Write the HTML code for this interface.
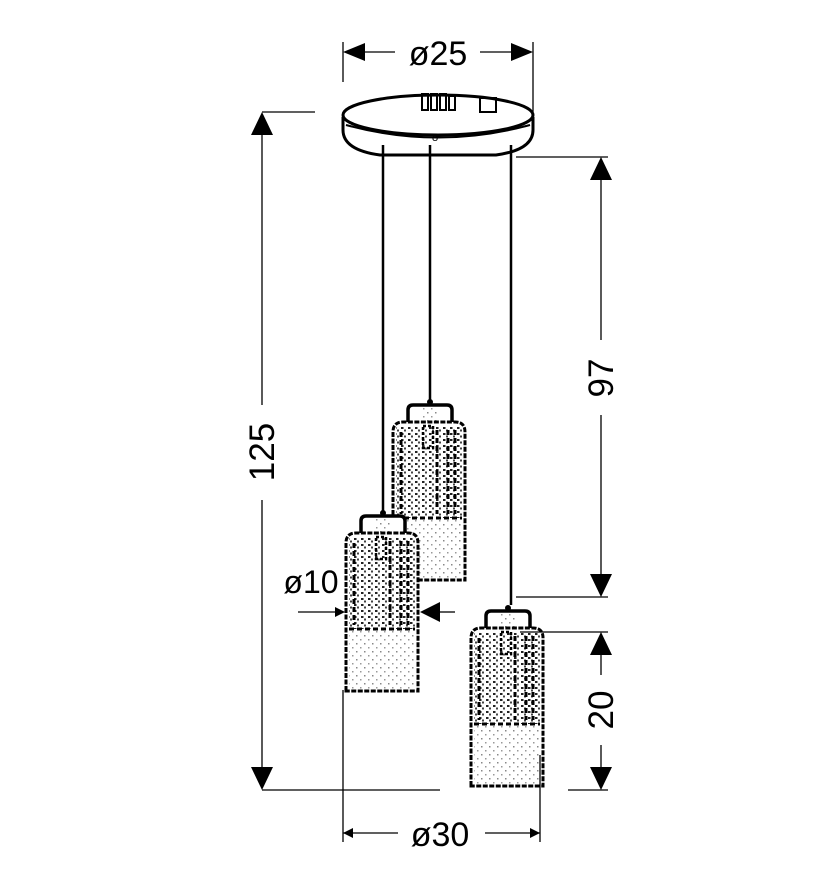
<!DOCTYPE html>
<html><head><meta charset="utf-8"><style>
html,body{margin:0;padding:0;background:#fff;width:828px;height:886px;overflow:hidden}
text{font-family:"Liberation Sans",sans-serif;fill:#000}
</style></head><body>
<svg width="828" height="886" viewBox="0 0 828 886" xmlns="http://www.w3.org/2000/svg">
<defs>
<pattern id="tex" width="7" height="6" patternUnits="userSpaceOnUse">
<rect x="1" y="1" width="2.5" height="2" fill="#222"/><rect x="4" y="3.5" width="2" height="2" fill="#444"/>
</pattern>
<pattern id="lt" width="8" height="8" patternUnits="userSpaceOnUse">
<rect x="2" y="2" width="1.5" height="1.5" fill="#888"/><rect x="6" y="6" width="1.5" height="1.5" fill="#999"/>
</pattern>
<g id="lamp">
<path d="M15,22 L15,8 Q15,3 20,3 L54,3 Q59,3 59,8 L59,22" fill="#fff" stroke="#000" stroke-width="3.5"/>
<rect x="28" y="6" width="18" height="16" fill="url(#lt)"/>
<path d="M0,178 L0,30 Q0,20 10,20 L62,20 Q72,20 72,30 L72,178 Z" fill="#fff" stroke="#000" stroke-width="3" stroke-dasharray="5,1.5"/>
<rect x="3" y="24" width="66" height="92" fill="url(#tex)"/>
<rect x="3" y="117" width="66" height="59" fill="url(#lt)"/>
<g stroke="#000" stroke-width="3" stroke-dasharray="5,3">
<line x1="8" y1="30" x2="8" y2="112"/><line x1="55" y1="28" x2="55" y2="112"/><line x1="62" y1="28" x2="62" y2="112"/><line x1="44" y1="28" x2="44" y2="112"/>
<line x1="3" y1="116" x2="69" y2="116"/>
</g>
<rect x="30" y="24" width="10" height="22" fill="none" stroke="#000" stroke-width="2.5" stroke-dasharray="3,2"/>
<circle cx="37" cy="0" r="3" fill="#000"/>
</g>
</defs>

<!-- canopy -->
<path d="M343,117 L343,130 Q343,150 380,155 L496,155 Q533,150 533,130 L533,117" fill="#fff" stroke="#000" stroke-width="3"/>
<ellipse cx="438" cy="115" rx="95" ry="20" fill="#fff" stroke="#000" stroke-width="3"/>
<path d="M346,125 Q438,150 530,125" fill="none" stroke="#000" stroke-width="2"/>
<g stroke="#000" stroke-width="2" fill="none">
<rect x="422" y="94" width="6" height="16"/><rect x="431" y="94" width="6" height="16"/><rect x="440" y="94" width="6" height="16"/><rect x="449" y="96" width="6" height="14"/><rect x="480" y="98" width="16" height="14"/>
</g>
<text x="432" y="141" font-size="11">8</text>
<!-- wires -->
<g stroke="#000" stroke-width="2.5">
<line x1="383" y1="145" x2="383" y2="512"/>
<line x1="430" y1="145" x2="430" y2="400"/>
<line x1="511" y1="145" x2="511" y2="605"/>
</g>
<use href="#lamp" transform="translate(393,402)"/>
<use href="#lamp" transform="translate(346,513)"/>
<use href="#lamp" transform="translate(471,608)"/>

<!-- dims -->
<g stroke="#000" stroke-width="1.3" fill="none">
<line x1="343" y1="42" x2="343" y2="82"/><line x1="533" y1="42" x2="533" y2="112"/>
<line x1="365" y1="52" x2="395" y2="52"/><line x1="480" y1="52" x2="512" y2="52"/>
<line x1="262" y1="112" x2="315" y2="112"/><line x1="262" y1="790" x2="440" y2="790"/><line x1="568" y1="790" x2="608" y2="790"/>
<line x1="262" y1="135" x2="262" y2="405"/><line x1="262" y1="500" x2="262" y2="770"/>
<line x1="516" y1="157" x2="608" y2="157"/><line x1="516" y1="597" x2="608" y2="597"/>
<line x1="601" y1="180" x2="601" y2="340"/><line x1="601" y1="415" x2="601" y2="575"/>
<line x1="520" y1="632" x2="608" y2="632"/>
<line x1="601" y1="655" x2="601" y2="675"/><line x1="601" y1="745" x2="601" y2="770"/>
<line x1="298" y1="612" x2="335" y2="612"/><line x1="440" y1="612" x2="455" y2="612"/>
<line x1="343" y1="690" x2="343" y2="842"/><line x1="540" y1="755" x2="540" y2="842"/>
<line x1="343" y1="833" x2="398" y2="833"/><line x1="485" y1="833" x2="540" y2="833"/>
</g>
<g fill="#000">
<polygon points="343,52 365,43 365,61"/><polygon points="533,52 511,43 511,61"/>
<polygon points="262,112 251,135 273,135"/><polygon points="262,790 251,767 273,767"/>
<polygon points="601,157 590,180 612,180"/><polygon points="601,597 590,574 612,574"/>
<polygon points="601,632 590,655 612,655"/><polygon points="601,790 590,767 612,767"/>
<polygon points="345,612 335,607 335,617"/><polygon points="420,612 440,602 440,622"/>
<polygon points="343,833 353,828 353,838"/><polygon points="540,833 530,828 530,838"/>
</g>
<text x="438" y="65" font-size="34" text-anchor="middle">ø25</text>
<text x="440" y="846" font-size="34" text-anchor="middle">ø30</text>
<text x="311" y="593" font-size="32" text-anchor="middle">ø10</text>
<text transform="translate(274,452) rotate(-90)" font-size="35" text-anchor="middle">125</text>
<text transform="translate(613,378) rotate(-90)" font-size="35" text-anchor="middle">97</text>
<text transform="translate(613,710) rotate(-90)" font-size="35" text-anchor="middle">20</text>
</svg>
</body></html>
